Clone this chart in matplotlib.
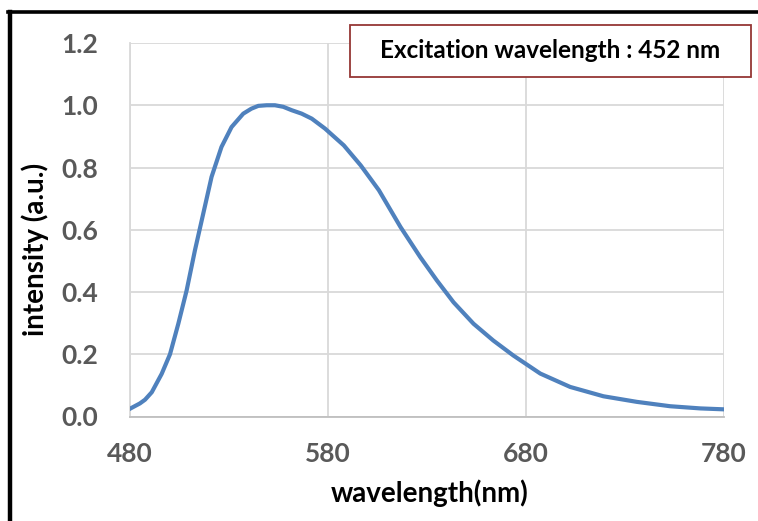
import matplotlib
matplotlib.use('Agg')
from matplotlib import pyplot as plt
from matplotlib.lines import Line2D
from matplotlib.patches import Rectangle

# emission spectrum
wavelength = [480, 485, 487.6, 491, 496, 500.2, 504.4, 508.6, 512.8, 517,
              521.2, 526.2, 531.3, 537.2, 541.3, 544.8, 549, 553.2, 557.4,
              561.7, 566.7, 571.8, 578.5, 588, 596.5, 605.7, 616.6, 626.6,
              635, 643.4, 653.5, 663.5, 673.6, 687.2, 702.3, 719.1, 736,
              752.8, 768, 780]
intensity = [0.025, 0.042, 0.054, 0.078, 0.137, 0.2, 0.298, 0.405, 0.534,
             0.652, 0.77, 0.866, 0.93, 0.973, 0.989, 0.998, 1.0, 1.0, 0.995,
             0.984, 0.973, 0.957, 0.925, 0.871, 0.807, 0.727, 0.609, 0.512,
             0.437, 0.367, 0.298, 0.244, 0.196, 0.138, 0.095, 0.065, 0.047,
             0.033, 0.026, 0.023]

xticks = [480, 580, 680, 780]
yticks = [0.0, 0.2, 0.4, 0.6, 0.8, 1.0, 1.2]
note = 'Excitation wavelength : 452 nm'

plt.rcParams['font.family'] = ['Lato', 'DejaVu Sans']
plt.rcParams['font.weight'] = 'bold'

W, H = 758, 521
fig = plt.figure(figsize=(W / 100, H / 100), dpi=100)
ax = fig.add_axes([130 / W, 1 - 416.5 / H, (724 - 130) / W, (416.5 - 43) / H])

ax.plot(wavelength, intensity, color='#4F81BD', lw=3.0, zorder=3,
        solid_joinstyle='round')

ax.set_xlim(480, 780)
ax.set_ylim(0, 1.2)
ax.set_xticks(xticks)
ax.set_yticks(yticks)
ax.set_yticklabels(['{:.1f}'.format(v) for v in yticks])
ax.grid(True, color='#D9D9D9', lw=1.3)
ax.set_axisbelow(True)
for side in ['top', 'right']:
    ax.spines[side].set_visible(False)
ax.spines['left'].set_color('#D9D9D9')
ax.spines['bottom'].set_color('#BFBFBF')
ax.spines['left'].set_linewidth(1.3)
ax.spines['bottom'].set_linewidth(1.3)
ax.tick_params(axis='both', length=0, labelsize=19, labelcolor='#595959')
ax.tick_params(axis='y', pad=23)
ax.tick_params(axis='x', pad=18)

fig.text(430 / W, 1 - 493 / H, 'wavelength(nm)', ha='center', va='center',
         fontsize=20, fontweight='bold')
fig.text(35 / W, 1 - 249 / H, 'intensity (a.u.)', ha='center', va='center',
         rotation=90, fontsize=20, fontweight='bold')

# note box
fig.add_artist(Rectangle((350 / W, 1 - 77 / H), 401 / W, 52 / H,
                         transform=fig.transFigure, facecolor='white',
                         edgecolor='#953735', lw=1.3))
fig.text(550.5 / W, 1 - 51 / H, note, ha='center', va='center',
         fontsize=17.5, fontweight='bold')

# outer frame (left and top edges visible)
fig.add_artist(Line2D([9.5 / W, 9.5 / W], [0, 1 - 11.7 / H], color='black',
                      lw=3.2, transform=fig.transFigure))
fig.add_artist(Line2D([8 / W, 1], [1 - 11.7 / H, 1 - 11.7 / H], color='black',
                      lw=2.6, transform=fig.transFigure))

fig.savefig('out.png', dpi=100)
